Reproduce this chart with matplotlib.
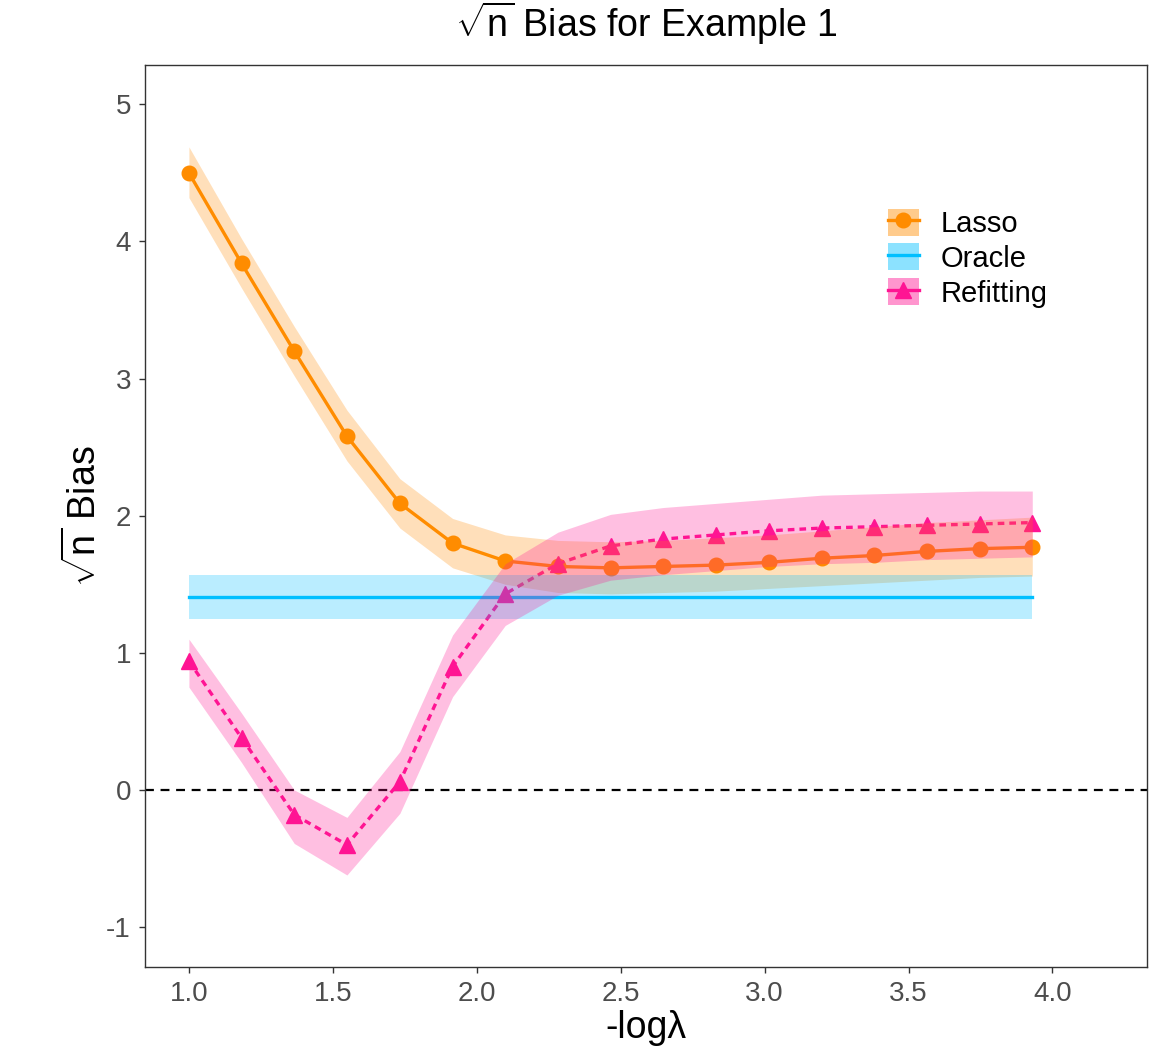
import matplotlib
matplotlib.use("Agg")
import matplotlib.pyplot as plt
from matplotlib.patches import Patch
from matplotlib.lines import Line2D
from matplotlib.legend_handler import HandlerTuple

plt.rcParams['font.family'] = ['Liberation Sans', 'DejaVu Sans']
plt.rcParams['mathtext.fontset'] = 'custom'
plt.rcParams['mathtext.rm'] = 'Liberation Sans'
plt.rcParams['mathtext.it'] = 'Liberation Sans'
plt.rcParams['axes.unicode_minus'] = False

# -log(lambda) grid
x = [1.0, 1.183, 1.366, 1.549, 1.733, 1.916, 2.099, 2.282, 2.465,
     2.648, 2.831, 3.014, 3.198, 3.381, 3.564, 3.747, 3.93]

lasso = [4.50, 3.84, 3.20, 2.58, 2.09, 1.80, 1.67, 1.63, 1.62,
         1.63, 1.64, 1.66, 1.69, 1.71, 1.74, 1.76, 1.77]
lasso_lo = [4.32, 3.66, 3.02, 2.40, 1.91, 1.62, 1.50, 1.44, 1.43,
            1.44, 1.45, 1.47, 1.49, 1.51, 1.53, 1.55, 1.56]
lasso_hi = [4.69, 4.02, 3.38, 2.77, 2.27, 1.98, 1.86, 1.82, 1.81,
            1.82, 1.84, 1.86, 1.89, 1.92, 1.95, 1.97, 1.99]

oracle = [1.41] * len(x)
oracle_lo = [1.25] * len(x)
oracle_hi = [1.57] * len(x)

refit = [0.94, 0.38, -0.18, -0.40, 0.06, 0.90, 1.43, 1.65, 1.78,
         1.83, 1.86, 1.89, 1.91, 1.92, 1.93, 1.94, 1.95]
refit_lo = [0.75, 0.20, -0.39, -0.62, -0.17, 0.68, 1.20, 1.42, 1.53,
            1.57, 1.60, 1.63, 1.65, 1.66, 1.68, 1.69, 1.70]
refit_hi = [1.10, 0.56, 0.00, -0.20, 0.28, 1.13, 1.65, 1.88, 2.01,
            2.06, 2.09, 2.12, 2.15, 2.16, 2.17, 2.18, 2.18]

c_lasso = '#FF8C00'
c_oracle = '#00BFFF'
c_refit = '#FF1493'
alpha_band = 0.27

fig = plt.figure(figsize=(11.59, 10.59), dpi=100)
ax = fig.add_axes([0.125, 0.087, 0.865, 0.852])

ax.axhline(0, color='black', ls=(0, (4, 3)), lw=1.6, zorder=1)

ax.plot(x, lasso, color=c_lasso, lw=2.4, marker='o', ms=10.5, zorder=2)
ax.plot(x, oracle, color=c_oracle, lw=2.4, zorder=2)
ax.plot(x, refit, color=c_refit, lw=2.4, ls=(0, (2, 1.5)), marker='^', ms=11, zorder=2)

ax.fill_between(x, lasso_lo, lasso_hi, color=c_lasso, alpha=alpha_band, lw=0, zorder=3)
ax.fill_between(x, oracle_lo, oracle_hi, color=c_oracle, alpha=alpha_band, lw=0, zorder=3)
ax.fill_between(x, refit_lo, refit_hi, color=c_refit, alpha=alpha_band, lw=0, zorder=3)

ax.set_xlim(0.847, 4.33)
ax.set_ylim(-1.29, 5.29)
ax.set_xticks([1.0, 1.5, 2.0, 2.5, 3.0, 3.5, 4.0])
ax.set_xticklabels(['1.0', '1.5', '2.0', '2.5', '3.0', '3.5', '4.0'])
ax.set_yticks([-1, 0, 1, 2, 3, 4, 5])
ax.tick_params(labelsize=20, labelcolor='#4D4D4D', color='#333333', length=4, width=1, pad=6)
for s in ax.spines.values():
    s.set_linewidth(1.0)
    s.set_color('#333333')

ax.set_xlabel('-log\u03bb', fontsize=27, labelpad=2)
ax.set_ylabel(r'$\sqrt{\mathrm{n}}$ Bias', fontsize=27, labelpad=2)
ax.set_title(r'$\sqrt{\mathrm{n}}$ Bias for Example 1', fontsize=27, pad=20)

leg_alpha = 0.45
handles = [
    (Patch(facecolor=c_lasso, alpha=leg_alpha, lw=0), Line2D([], [], color=c_lasso, lw=2.4, marker='o', ms=10.5)),
    (Patch(facecolor=c_oracle, alpha=leg_alpha, lw=0), Line2D([], [], color=c_oracle, lw=2.4)),
    (Patch(facecolor=c_refit, alpha=leg_alpha, lw=0), Line2D([], [], color=c_refit, lw=2.4, marker='^', ms=11)),
]
ax.legend(handles, ['Lasso', 'Oracle', 'Refitting'],
          handler_map={tuple: HandlerTuple(ndivide=1, pad=0)},
          loc='upper left', bbox_to_anchor=(0.721, 0.863), frameon=False,
          fontsize=21, handlelength=1.05, handleheight=1.05,
          labelspacing=0.18, handletextpad=0.75, borderpad=0.2)

fig.savefig('out.png', dpi=100)
